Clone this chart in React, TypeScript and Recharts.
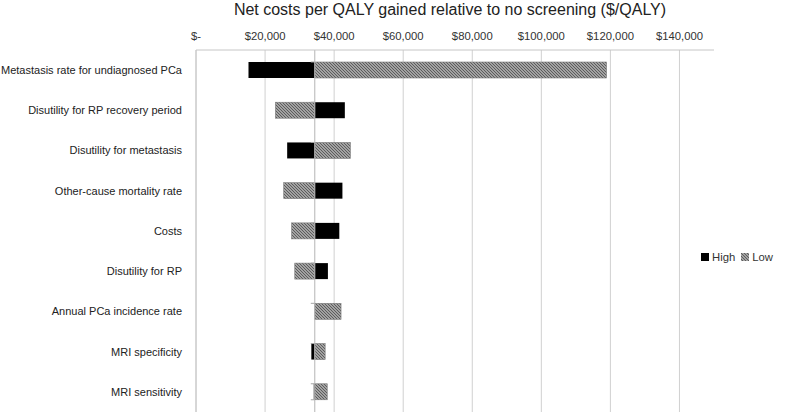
import React from "react";
import {
  BarChart,
  Bar,
  XAxis,
  YAxis,
  CartesianGrid,
  ReferenceLine,
} from "recharts";

const categories = [
  "Metastasis rate for undiagnosed PCa",
  "Disutility for RP recovery period",
  "Disutility for metastasis",
  "Other-cause mortality rate",
  "Costs",
  "Disutility for RP",
  "Annual PCa incidence rate",
  "MRI specificity",
  "MRI sensitivity",
];

// net cost per QALY for the high / low value of each parameter
const highValues = [15200, 43100, 26400, 42400, 41500, 38200, 34400, 33400, 34100];
const lowValues = [118900, 23000, 44700, 25400, 27700, 28600, 42000, 37400, 38000];
const BASE = 34400;
const X_MAX = 150000;
const xTicks = [0, 20000, 40000, 60000, 80000, 100000, 120000, 140000];

const FONT = '"Liberation Sans", Arial, sans-serif';

const span = (v: number): [number, number] => [Math.min(BASE, v), Math.max(BASE, v)];

const data = categories.map((name, i) => ({
  name,
  high: span(highValues[i]),
  low: span(lowValues[i]),
  lowAbove: lowValues[i] >= BASE,
}));

const fmt = (v: number) => (v === 0 ? "$-" : "$" + v.toLocaleString("en-US"));

// low bar + the little category tick marks on the baseline axis
const LowShape = (props: any) => {
  const { x, y, width, height, background, payload, index } = props;
  const baseX = payload.lowAbove ? x : x + width;
  const top = background ? background.y : y - 12;
  const bh = background ? background.height : 40;
  return (
    <g>
      <rect
        x={x}
        y={y}
        width={Math.max(width, 0)}
        height={height}
        fill="url(#hatch)"
        stroke="#7a7a7a"
        strokeWidth={0.6}
      />
      <line x1={baseX - 4} x2={baseX} y1={top} y2={top} stroke="#a6a6a6" />
      {index === categories.length - 1 && (
        <line x1={baseX - 4} x2={baseX} y1={top + bh} y2={top + bh} stroke="#a6a6a6" />
      )}
    </g>
  );
};

const CatTick = (props: any) => {
  const { x, y, payload } = props;
  return (
    <text
      x={x - 3}
      y={y}
      dy="0.355em"
      textAnchor="end"
      fill="#222"
      fontSize={11}
      fontFamily={FONT}
    >
      {payload.value}
    </text>
  );
};

const gridX = (args: any) => {
  const off = args.offset || {};
  const left = off.left ?? 196;
  const w = off.width ?? 518;
  return xTicks.map((t) => left + (t / X_MAX) * w);
};

const Legend = () => (
  <div
    style={{
      position: "absolute",
      left: 701,
      top: 251,
      display: "flex",
      alignItems: "center",
      fontFamily: FONT,
      fontSize: 11.3,
      color: "#333",
    }}
  >
    <span style={{ width: 8, height: 8, background: "#000", marginRight: 3 }} />
    <span style={{ marginRight: 6 }}>High</span>
    <svg width={8} height={8} style={{ marginRight: 3 }}>
      <rect width={8} height={8} fill="url(#hatch)" />
    </svg>
    <span>Low</span>
  </div>
);

export default function App() {
  return (
    <div style={{ position: "absolute", left: 0, top: 0, width: 797, height: 414, background: "#fff" }}>
      <div
        style={{
          position: "absolute",
          left: 0,
          width: 900,
          textAlign: "center",
          top: 1,
          fontFamily: FONT,
          fontSize: 16,
          color: "#222",
          whiteSpace: "nowrap",
        }}
      >
        Net costs per QALY gained relative to no screening ($/QALY)
      </div>
      <BarChart
        width={797}
        height={414}
        data={data}
        layout="vertical"
        margin={{ top: 20, right: 83, left: 0, bottom: 2 }}
      >
        <defs>
          <pattern id="hatch" patternUnits="userSpaceOnUse" width={3} height={3}>
            <rect width={3} height={3} fill="#a2a2a2" />
            <path d="M-1,-1 L4,4 M-1,2 L1,4 M2,-1 L4,1" stroke="#5c5c5c" strokeWidth={1} />
          </pattern>
        </defs>
        <CartesianGrid horizontal={false} stroke="#d0d0d0" verticalCoordinatesGenerator={gridX} />
        <XAxis
          type="number"
          orientation="top"
          height={30}
          domain={[0, X_MAX]}
          ticks={xTicks}
          tickFormatter={fmt}
          axisLine={{ stroke: "#c6c6c6" }}
          tickLine={false}
          tickMargin={4}
          tick={{ fill: "#333", fontSize: 11.3, fontFamily: FONT }}
          interval={0}
        />
        <YAxis
          yAxisId="cat"
          type="category"
          dataKey="name"
          width={196}
          axisLine={{ stroke: "#c6c6c6" }}
          tickLine={false}
          tickMargin={5}
          tick={<CatTick />}
          interval={0}
        />
        <YAxis yAxisId="cat2" type="category" dataKey="name" hide />
        <ReferenceLine yAxisId="cat" x={BASE} stroke="#b4b4b4" />
        <Bar
          yAxisId="cat"
          dataKey="high"
          fill="#000"
          barSize={16}
          isAnimationActive={false}
        />
        <Bar
          yAxisId="cat2"
          dataKey="low"
          barSize={16}
          shape={LowShape}
          isAnimationActive={false}
        />
      </BarChart>
      <Legend />
    </div>
  );
}
